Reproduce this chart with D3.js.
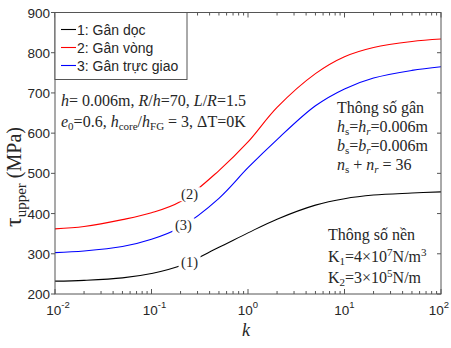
<!DOCTYPE html>
<html>
<head>
<meta charset="utf-8">
<script src="https://cdn.jsdelivr.net/npm/d3@7"></script>
<style>
  body { margin: 0; background: #fff; }
  svg { display: block; }
</style>
</head>
<body>
<svg id="chart"></svg>
<script>
// stiffness ratio k and upper shear stress (MPa) for each rib layout
const kValues = [0.01, 0.02, 0.05, 0.1, 0.2, 0.5, 1, 2, 5, 10, 20, 50, 100];
const tauLongitudinal = [232, 234, 240, 251, 270, 316, 352, 386, 421, 437, 446, 451, 454];
const tauCircumferential = [362, 368, 385, 402, 430, 507, 578, 664, 748, 790, 813, 828, 834];
const tauOrthogonal = [303, 307, 318, 336, 366, 438, 514, 584, 668, 710, 737, 756, 765];

const seriesNames = ['1: Gân dọc', '2: Gân vòng', '3: Gân trực giao'];
const seriesColors = ['#000000', '#ff0000', '#0000ff'];
const curveLabels = ['(1)', '(2)', '(3)'];
const curveLabelK = [0.248, 0.248, 0.214];

const yTicks = [200, 300, 400, 500, 600, 700, 800, 900];
const xTicks = [0.01, 0.1, 1, 10, 100];
const xTickExp = ['-2', '-1', '0', '1', '2'];

const width = 451, height = 348;
const margin = { top: 12.5, right: 10, bottom: 54, left: 55 };

const svg = d3.select('#chart').attr('width', width).attr('height', height);

const x = d3.scaleLog().domain([0.01, 100]).range([margin.left, width - margin.right]);
const y = d3.scaleLinear().domain([200, 900]).range([height - margin.bottom, margin.top]);

const x0 = x.range()[0], x1 = x.range()[1];
const y0 = y.range()[0], y1 = y.range()[1];
const axisColor = '#555';
const textColor = '#262626';

// minor ticks for the log axis
const minorTicks = [];
for (let e = -2; e < 2; e++) {
  for (let m = 2; m <= 9; m++) minorTicks.push(m * Math.pow(10, e));
}

const series = [tauLongitudinal, tauCircumferential, tauOrthogonal];

const line = d3.line()
  .x((d, i) => x(kValues[i]))
  .y(d => y(d))
  .curve(d3.curveCatmullRom.alpha(0.5));

series.forEach((s, i) => {
  svg.append('path')
    .datum(s)
    .attr('fill', 'none')
    .attr('stroke', seriesColors[i])
    .attr('stroke-width', 1.1)
    .attr('d', line);
});

// curve labels sitting on the lines (with a white gap behind)
function tauAt(s, k) {
  const lk = Math.log10(k);
  for (let i = 0; i < kValues.length - 1; i++) {
    const a = Math.log10(kValues[i]), b = Math.log10(kValues[i + 1]);
    if (lk >= a && lk <= b) return s[i] + (s[i + 1] - s[i]) * (lk - a) / (b - a);
  }
  return s[s.length - 1];
}
series.forEach((s, i) => {
  const cx = x(curveLabelK[i]);
  const cy = y(tauAt(s, curveLabelK[i]));
  svg.append('rect')
    .attr('x', cx - 11).attr('y', cy - 7)
    .attr('width', 22).attr('height', 14)
    .attr('fill', '#fff');
  svg.append('text')
    .attr('x', cx).attr('y', cy + 5)
    .attr('text-anchor', 'middle')
    .attr('font-family', 'Liberation Serif, Times New Roman, serif')
    .attr('font-size', 14.5)
    .attr('fill', textColor)
    .text(curveLabels[i]);
});

// axes frame
const g = svg.append('g').attr('stroke', axisColor).attr('fill', 'none').attr('stroke-width', 1);
g.append('rect').attr('x', x0).attr('y', y1).attr('width', x1 - x0).attr('height', y0 - y1);

xTicks.forEach(t => {
  g.append('line').attr('x1', x(t)).attr('x2', x(t)).attr('y1', y0).attr('y2', y0 - 5);
  g.append('line').attr('x1', x(t)).attr('x2', x(t)).attr('y1', y1).attr('y2', y1 + 5);
});
minorTicks.forEach(t => {
  g.append('line').attr('x1', x(t)).attr('x2', x(t)).attr('y1', y0).attr('y2', y0 - 3);
  g.append('line').attr('x1', x(t)).attr('x2', x(t)).attr('y1', y1).attr('y2', y1 + 3);
});
yTicks.forEach(t => {
  g.append('line').attr('x1', x0 - 4).attr('x2', x0).attr('y1', y(t)).attr('y2', y(t));
  g.append('line').attr('x1', x1).attr('x2', x1 - 4).attr('y1', y(t)).attr('y2', y(t));
});

// tick labels
svg.append('g').selectAll('text').data(yTicks).join('text')
  .attr('x', x0 - 5).attr('y', d => y(d) + 5)
  .attr('text-anchor', 'end')
  .attr('font-family', 'Liberation Sans, Arial, sans-serif')
  .attr('font-size', 13.5)
  .attr('fill', textColor)
  .text(d => d);

xTicks.forEach((t, i) => {
  const shift = xTickExp[i].startsWith('-') ? 3 : (i === xTicks.length - 1 ? -2 : 0);
  const tx = svg.append('text')
    .attr('x', x(t) + shift).attr('y', y0 + 21)
    .attr('text-anchor', 'middle')
    .attr('font-family', 'Liberation Sans, Arial, sans-serif')
    .attr('font-size', 13.5)
    .attr('fill', textColor);
  tx.append('tspan').text('10');
  tx.append('tspan').attr('dy', -7).attr('font-size', 9.5).text(xTickExp[i]);
});

// axis titles
svg.append('text')
  .attr('x', x(1) - 2).attr('y', 336)
  .attr('text-anchor', 'middle')
  .attr('font-family', 'Liberation Serif, Times New Roman, serif')
  .attr('font-style', 'italic')
  .attr('font-size', 18)
  .attr('fill', textColor)
  .text('k');

const yl = svg.append('text')
  .attr('transform', 'translate(21,177) rotate(-90)')
  .attr('text-anchor', 'middle')
  .attr('font-family', 'Liberation Serif, Times New Roman, serif')
  .attr('font-size', 20)
  .attr('fill', textColor);
yl.append('tspan').attr('font-size', 24).text('τ');
yl.append('tspan').attr('dy', 5).attr('font-size', 15).text('upper');
yl.append('tspan').attr('dy', -5).text(' (MPa)');

// legend
const lg = svg.append('g');
lg.append('rect')
  .attr('x', x0).attr('y', y1)
  .attr('width', 132).attr('height', 67)
  .attr('fill', '#fff').attr('stroke', axisColor);
seriesNames.forEach((name, i) => {
  const ly = y1 + 17 + i * 18;
  lg.append('line')
    .attr('x1', x0 + 6).attr('x2', x0 + 21)
    .attr('y1', ly).attr('y2', ly)
    .attr('stroke', seriesColors[i]).attr('stroke-width', 1.1);
  lg.append('text')
    .attr('x', x0 + 22).attr('y', ly + 5)
    .attr('font-family', 'Liberation Sans, Arial, sans-serif')
    .attr('font-size', 14)
    .attr('fill', textColor)
    .text(name);
});

// annotation helper: segments [text, style]; style: '', 'i', 'sub', 'isub', 'sup'
function rich(px, py, segs) {
  const t = svg.append('text')
    .attr('x', px).attr('y', py)
    .attr('font-family', 'Liberation Serif, Times New Roman, serif')
    .attr('font-size', 16)
    .attr('fill', textColor);
  let shift = 0;
  segs.forEach(([txt, st]) => {
    const sp = t.append('tspan').text(txt);
    let target = 0;
    if (st === 'sub' || st === 'isub') { target = 3; sp.attr('font-size', 11); }
    if (st === 'sup') { target = -6; sp.attr('font-size', 11); }
    if (st === 'i' || st === 'isub') sp.attr('font-style', 'italic');
    if (target !== shift) { sp.attr('dy', target - shift); shift = target; }
  });
  return t;
}

rich(61, 106, [['h', 'i'], ['= 0.006m, ', ''], ['R', 'i'], ['/', ''], ['h', 'i'], ['=70, ', ''],
  ['L', 'i'], ['/', ''], ['R', 'i'], ['=1.5', '']]);
rich(61, 127, [['e', 'i'], ['0', 'sub'], ['=0.6, ', ''], ['h', 'i'], ['core', 'sub'], ['/', ''],
  ['h', 'i'], ['FG', 'sub'], [' = 3, ΔT=0K', '']]);

rich(337, 113, [['Thông số gân', '']]);
rich(337, 132, [['h', 'i'], ['s', 'sub'], ['=', ''], ['h', 'i'], ['r', 'isub'], ['=0.006m', '']]);
rich(337, 151, [['b', 'i'], ['s', 'sub'], ['=', ''], ['b', 'i'], ['r', 'isub'], ['=0.006m', '']]);
rich(337, 170, [['n', 'i'], ['s', 'sub'], [' + ', ''], ['n', 'i'], ['r', 'isub'], [' = 36', '']]);

rich(328, 240, [['Thông số nền', '']]);
rich(328, 262, [['K', ''], ['1', 'sub'], ['=4×10', ''], ['7', 'sup'], ['N/m', ''], ['3', 'sup']]);
rich(328, 283, [['K', ''], ['2', 'sub'], ['=3×10', ''], ['5', 'sup'], ['N/m', '']]);
</script>
</body>
</html>
